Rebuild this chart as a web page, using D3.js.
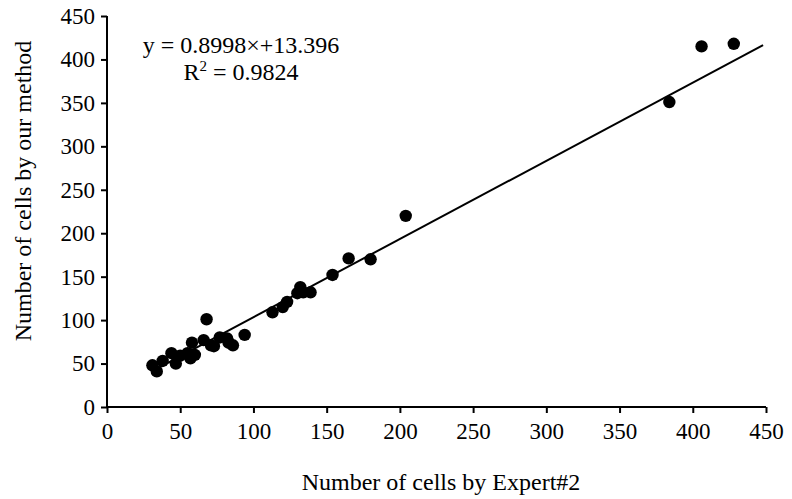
<!DOCTYPE html>
<html>
<head>
<meta charset="utf-8">
<script src="https://cdn.jsdelivr.net/npm/d3@7"></script>
<style>
  body { margin: 0; background: #fff; }
  svg text { font-family: "Liberation Serif", "Times New Roman", serif; fill: #000; }
</style>
</head>
<body>
<div id="chart"></div>
<script>
// counts by Expert#2 (x) and by our method (y)
const expertCounts = [31, 34, 38, 44, 47, 50, 55, 57, 58, 60, 66, 68, 71, 73, 77, 82, 83, 86, 94,
  113, 120, 123, 130, 132, 134, 139, 154, 165, 180, 204, 384, 406, 428]
const methodCounts = [48, 41, 53, 62, 50, 59, 62, 56, 74, 60, 77, 101, 71, 70, 80, 79, 74, 71, 83,
  109, 115, 121, 131, 138, 132, 132, 152, 171, 170, 220, 351, 415, 418]
const ticks = [0, 50, 100, 150, 200, 250, 300, 350, 400, 450]
const fitSlope = 0.8998
const fitIntercept = 13.396
const fitRange = [31, 448]

const width = 792
const height = 499
const margin = { left: 107, right: 26, top: 16, bottom: 92 }

const svg = d3.select('#chart')
  .append('svg')
  .attr('width', width)
  .attr('height', height)

const x = d3.scaleLinear()
  .domain([0, 450])
  .range([margin.left, width - margin.right])
const y = d3.scaleLinear()
  .domain([0, 450])
  .range([height - margin.bottom, margin.top])

const xAxis = d3.axisBottom(x).tickValues(ticks).tickSize(6).tickSizeOuter(0).tickPadding(10)
const yAxis = d3.axisLeft(y).tickValues(ticks).tickSize(6).tickSizeOuter(0).tickPadding(6)

const gx = svg.append('g')
  .attr('transform', `translate(0, ${y(0)})`)
  .call(xAxis)
const gy = svg.append('g')
  .attr('transform', `translate(${x(0)}, 0)`)
  .call(yAxis)

// plain black axes, serif labels
svg.selectAll('.domain').attr('stroke', '#000').attr('stroke-width', 2)
svg.selectAll('.tick line').attr('stroke', '#000').attr('stroke-width', 2)
svg.selectAll('.tick text').attr('font-size', 23).attr('font-family', null).attr('fill', '#000')
gx.select('.domain').attr('d', `M${x(0)},0H${x(450)}`)
gy.select('.domain').attr('d', `M0,${y(0)}V${y(450)}`)

// trendline (under the dots)
svg.append('line')
  .attr('x1', x(fitRange[0]))
  .attr('y1', y(fitSlope * fitRange[0] + fitIntercept))
  .attr('x2', x(fitRange[1]))
  .attr('y2', y(fitSlope * fitRange[1] + fitIntercept))
  .attr('stroke', '#000')
  .attr('stroke-width', 2)

svg.append('g')
  .selectAll('circle')
  .data(expertCounts)
  .enter()
  .append('circle')
  .attr('cx', d => x(d))
  .attr('cy', (d, i) => y(methodCounts[i]))
  .attr('r', 6.2)
  .attr('fill', '#000')

// equation
svg.append('text')
  .attr('x', 241)
  .attr('y', 53)
  .attr('text-anchor', 'middle')
  .attr('font-size', 24)
  .text(`y = ${fitSlope}×+${fitIntercept}`)

const r2 = svg.append('text')
  .attr('x', 241)
  .attr('y', 80)
  .attr('text-anchor', 'middle')
  .attr('font-size', 24)
r2.append('tspan').text('R')
r2.append('tspan').attr('font-size', 15).attr('dy', -9).text('2')
r2.append('tspan').attr('dy', 9).text(' = 0.9824')

// axis titles
svg.append('text')
  .attr('x', 441)
  .attr('y', 490)
  .attr('text-anchor', 'middle')
  .attr('font-size', 24)
  .text('Number of cells by Expert#2')

svg.append('text')
  .attr('transform', 'translate(31, 191) rotate(-90)')
  .attr('text-anchor', 'middle')
  .attr('font-size', 24)
  .text('Number of cells by our method')
</script>
</body>
</html>
